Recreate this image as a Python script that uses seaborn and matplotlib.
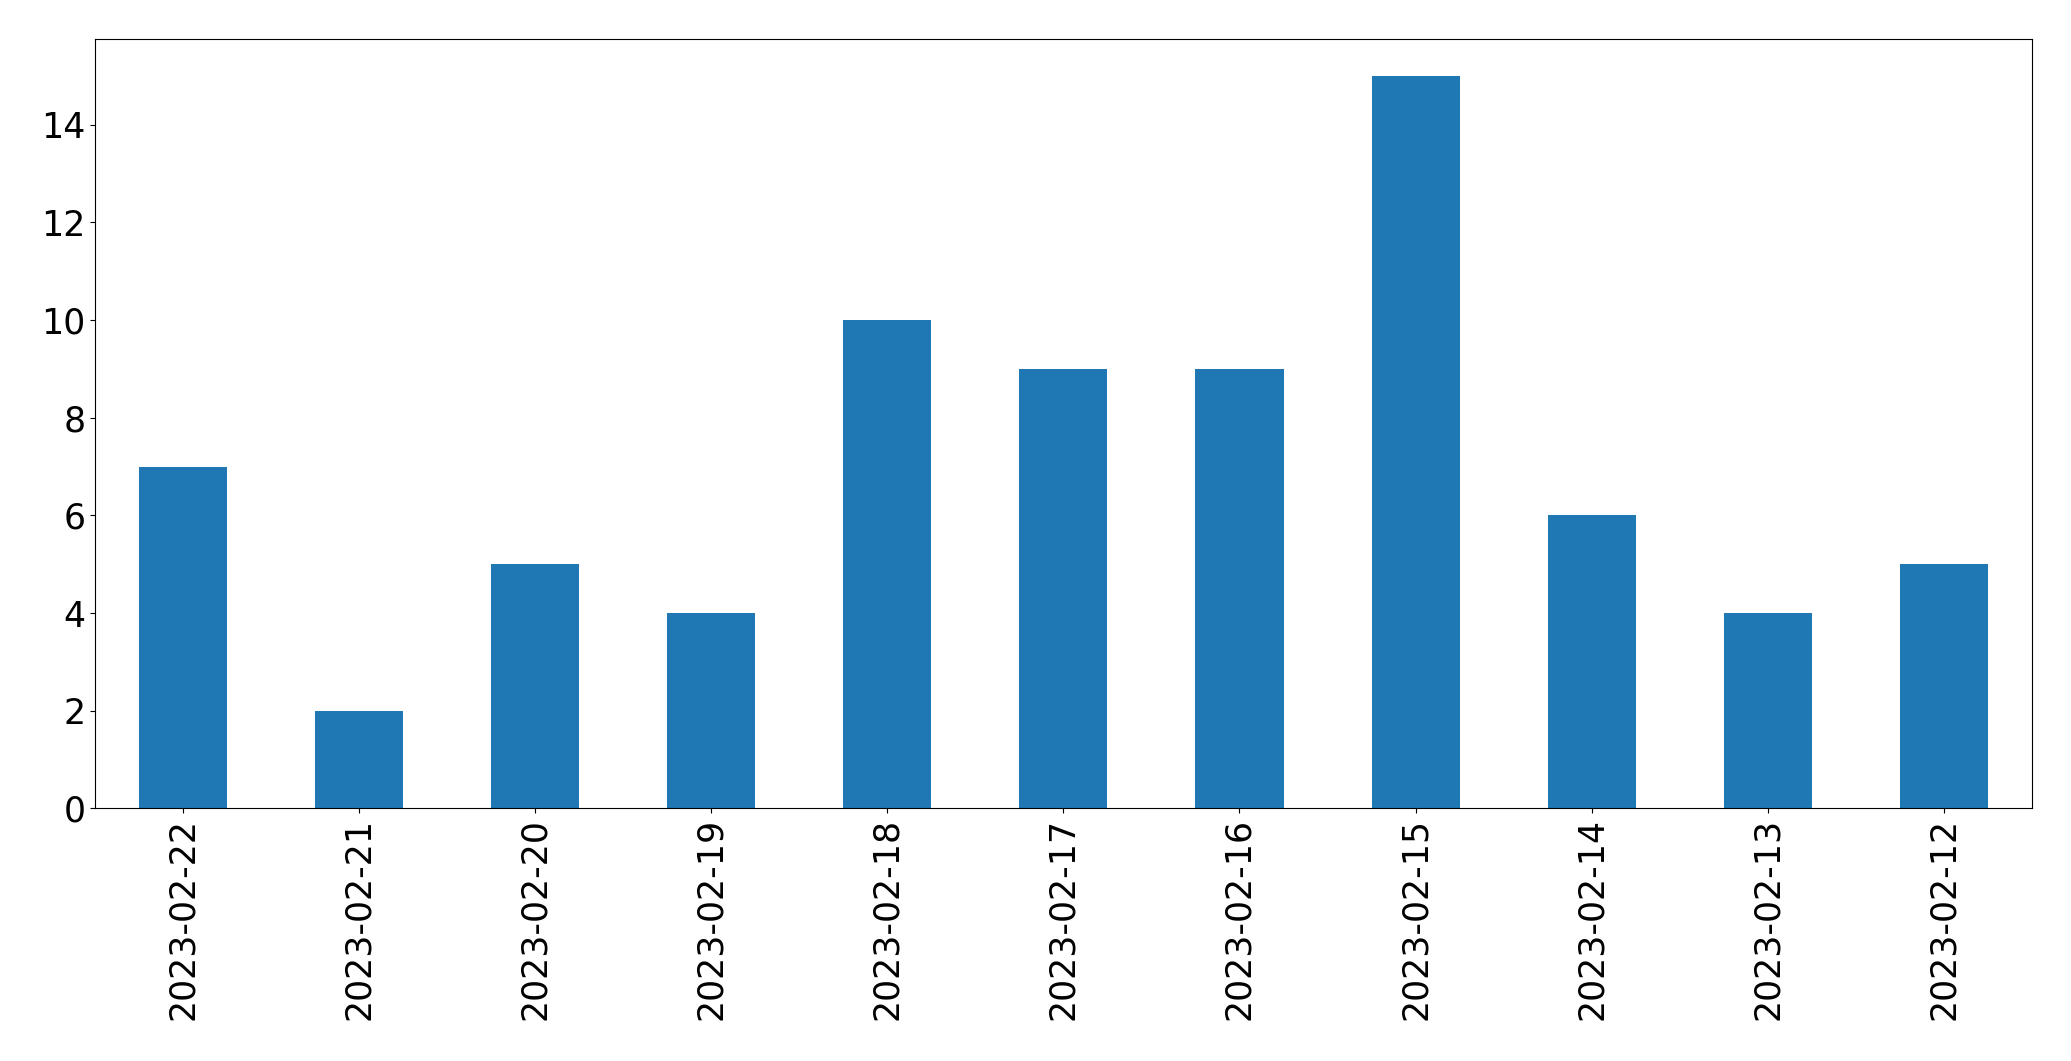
import matplotlib
matplotlib.use("Agg")
import matplotlib.pyplot as plt
import seaborn as sns
import pandas as pd

dates = ["2023-02-22", "2023-02-21", "2023-02-20", "2023-02-19", "2023-02-18",
         "2023-02-17", "2023-02-16", "2023-02-15", "2023-02-14", "2023-02-13",
         "2023-02-12"]
counts = [7, 2, 5, 4, 10, 9, 9, 15, 6, 4, 5]

df = pd.DataFrame({"date": dates, "count": counts})

fig = plt.figure(figsize=(20.71, 10.61), dpi=100)
ax = fig.add_axes([0.046, 0.238, 0.935, 0.725])
sns.barplot(data=df, x="date", y="count", order=dates, color="#1f77b4",
            saturation=1, width=0.5, ax=ax, linewidth=0)
ax.set_xlim(-0.5, len(dates) - 0.5)
ax.set_ylim(0, 15.75)
ax.set_xlabel("")
ax.set_ylabel("")
ax.tick_params(axis="both", labelsize=25)
ax.tick_params(axis="x", labelrotation=90)
fig.savefig("out.png", dpi=100)
